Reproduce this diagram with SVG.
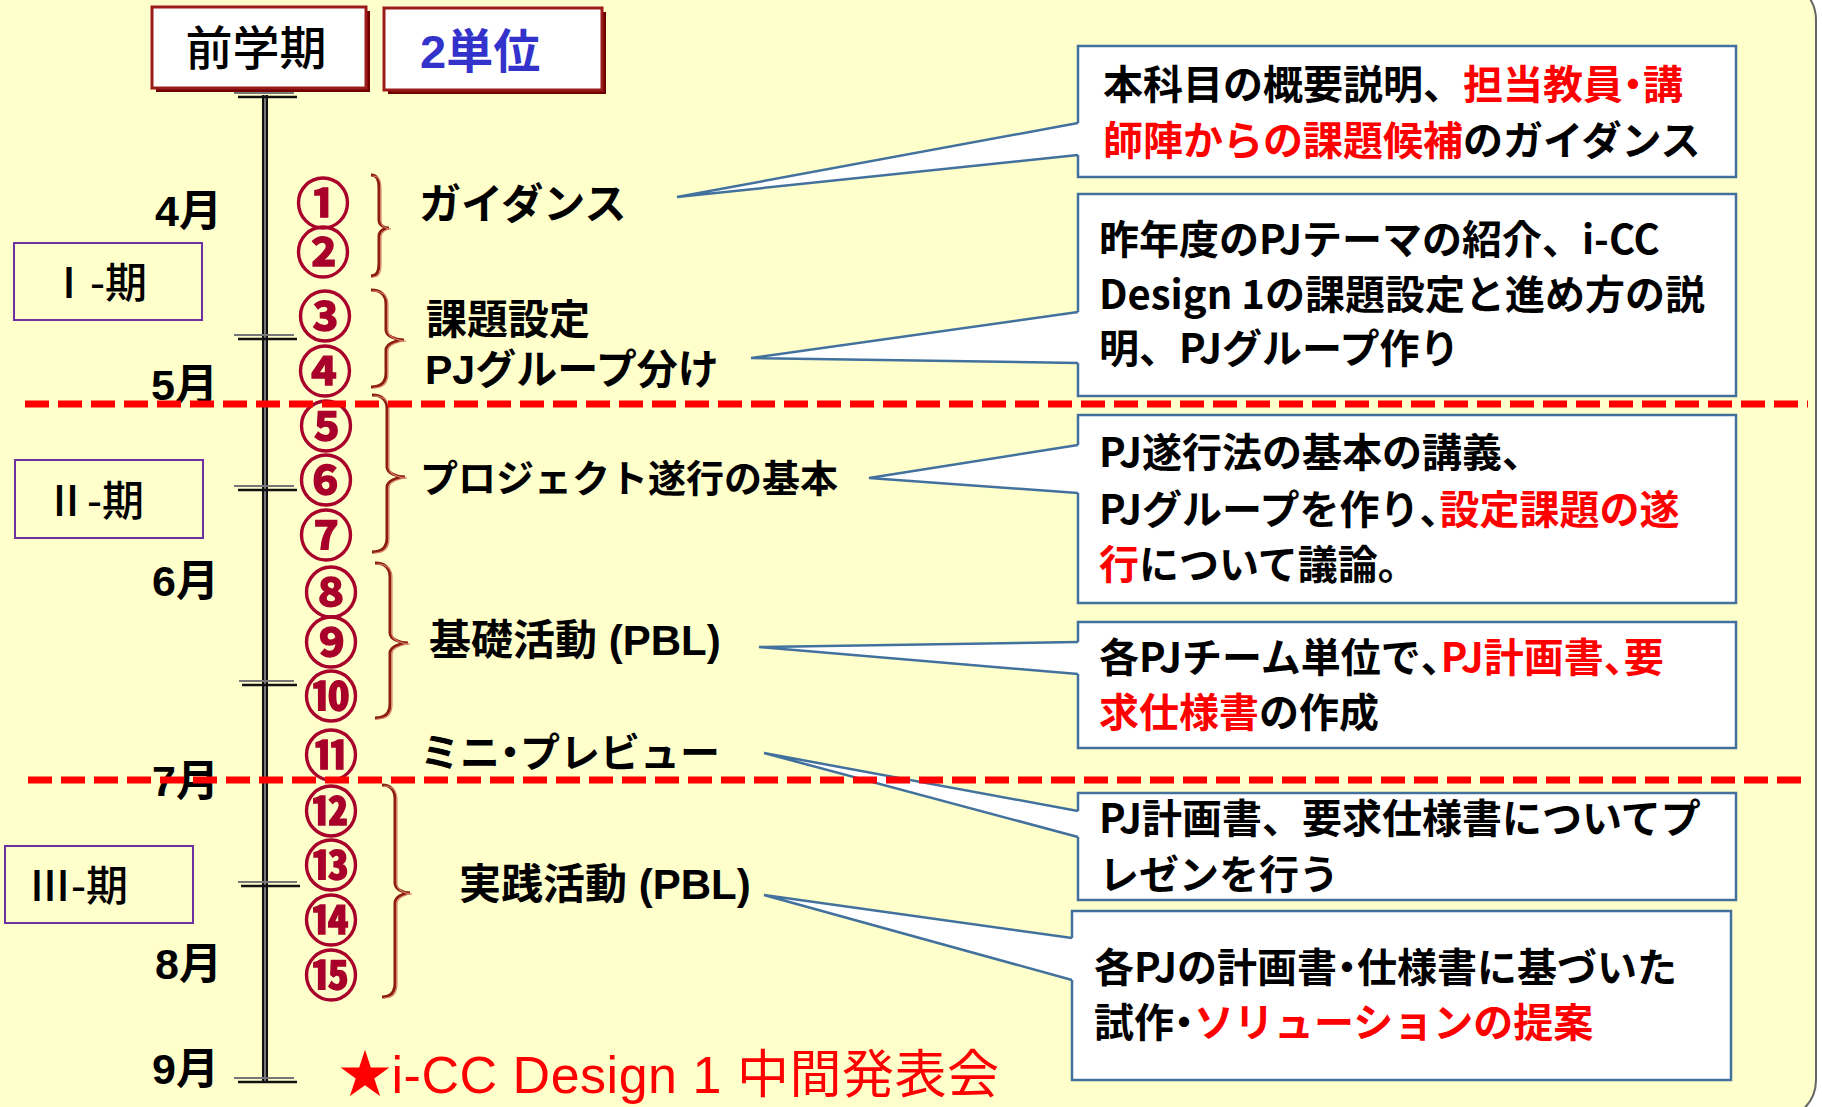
<svg xmlns="http://www.w3.org/2000/svg" width="1822" height="1107" viewBox="0 0 1822 1107">
<style>
.jp{font-family:"Noto Sans CJK JP","Noto Sans",sans-serif}
.lab{font-family:"Liberation Sans","Noto Sans CJK JP",sans-serif;font-weight:700;fill:#000}
.mon{font-family:"Liberation Sans","Noto Sans CJK JP",sans-serif;font-weight:700;font-size:43px;fill:#000}
.num{font-family:"Noto Sans CJK JP",sans-serif;font-weight:700;font-size:54px;fill:#A8002A;stroke:#A8002A;stroke-width:1.4;text-anchor:middle;dominant-baseline:central}
.per{fill:none;stroke:#7030A0;stroke-width:2}
.pert{font-family:"Noto Sans CJK JP",sans-serif;font-weight:500;font-size:42px;fill:#000}
.box{fill:#fff;stroke:#41719C;stroke-width:2.5}
.bt{font-family:"Noto Sans CJK JP",sans-serif;font-weight:700;font-size:40px;fill:#000}
.r{fill:#FF0000}
.h{font-feature-settings:"halt"}
.br{fill:none;stroke:#8B1E10;stroke-width:3}
.br2{fill:none;stroke:#D9826E;stroke-width:1.2}
.wf{fill:#fff;stroke:none}
.wl{fill:none;stroke:#41719C;stroke-width:2.5;stroke-linejoin:miter}
.dash{stroke:#FF0000;stroke-width:7;stroke-dasharray:24 9}
.tk1{stroke:#777;stroke-width:2}
.tk2{stroke:#111;stroke-width:2.5}
</style>
<rect x="-20" y="-20" width="1836" height="1140" rx="40" fill="#FFFFCC" stroke="#666" stroke-width="2"/>

<g id="header">
<g id="term">
<rect x="156" y="11" width="214" height="81" fill="#700000"/>
<rect x="152" y="7" width="214" height="81" fill="#fff" stroke="#9B1B1B" stroke-width="3"/>
<text x="256" y="65" class="jp" font-size="47" font-weight="500" text-anchor="middle">前学期</text>
</g>
<g id="credits">
<rect x="388" y="12" width="218" height="82" fill="#700000"/>
<rect x="384" y="8" width="218" height="82" fill="#fff" stroke="#9B1B1B" stroke-width="3"/>
<text x="420" y="68" font-family="Liberation Sans,Noto Sans CJK JP,sans-serif" font-size="47" font-weight="700" fill="#3333CC">2単位</text>
</g>
</g>

<g id="timeline">
<line x1="265" y1="95" x2="265" y2="1081" stroke="#111" stroke-width="6"/>
<line x1="265" y1="95" x2="265" y2="1081" stroke="#9a9a9a" stroke-width="1.5"/>
<line class="tk1" x1="234" y1="93" x2="294" y2="93"/><line class="tk2" x1="238" y1="97" x2="297" y2="97"/>
<line class="tk1" x1="234" y1="335" x2="294" y2="335"/><line class="tk2" x1="238" y1="339" x2="297" y2="339"/>
<line class="tk1" x1="234" y1="486" x2="294" y2="486"/><line class="tk2" x1="238" y1="490" x2="297" y2="490"/>
<line class="tk1" x1="239" y1="681" x2="294" y2="681"/><line class="tk2" x1="242" y1="685" x2="297" y2="685"/>
<line class="tk1" x1="238" y1="882" x2="297" y2="882"/><line class="tk2" x1="241" y1="886" x2="300" y2="886"/>
<line class="tk1" x1="234" y1="1078" x2="294" y2="1078"/><line class="tk2" x1="238" y1="1082" x2="297" y2="1082"/>
</g>

<g id="months">
<text class="mon" x="155" y="226">4月</text>
<text class="mon" x="151" y="400">5月</text>
<text class="mon" x="152" y="596">6月</text>
<text class="mon" x="152" y="796">7月</text>
<text class="mon" x="155" y="979">8月</text>
<text class="mon" x="152" y="1084">9月</text>
</g>

<g id="period-1"><rect class="per" x="14" y="243" width="188" height="77"/><text class="pert" x="48" y="298">Ⅰ-期</text></g>
<g id="period-2"><rect class="per" x="15" y="460" width="188" height="78"/><text class="pert" x="45" y="516">Ⅱ-期</text></g>
<g id="period-3"><rect class="per" x="5" y="846" width="188" height="77"/><text class="pert" x="29" y="901">Ⅲ-期</text></g>

<g id="sessions">
<text class="num" x="323" y="200">①</text>
<text class="num" x="323" y="249">②</text>
<text class="num" x="325" y="313">③</text>
<text class="num" x="325" y="368">④</text>
<text class="num" x="326" y="423">⑤</text>
<text class="num" x="326" y="477">⑥</text>
<text class="num" x="326" y="532">⑦</text>
<text class="num" x="331" y="589">⑧</text>
<text class="num" x="331" y="639">⑨</text>
<text class="num" x="331" y="693">⑩</text>
<text class="num" x="331" y="752">⑪</text>
<text class="num" x="331" y="808">⑫</text>
<text class="num" x="331" y="862">⑬</text>
<text class="num" x="331" y="917">⑭</text>
<text class="num" x="331" y="972">⑮</text>
</g>

<g id="braces">
<path class="br" d="M371,175 C377,175 379,179 379,189 L379,220 C379,225 384,228 389,228 C384,228 379,231 379,236 L379,262 C379,272 377,276 371,276"/>
<path class="br2" transform="translate(2,1)" d="M371,175 C377,175 379,179 379,189 L379,220 C379,225 384,228 389,228 C384,228 379,231 379,236 L379,262 C379,272 377,276 371,276"/>
<path class="br" d="M371,290 C380,290 386,294 386,304 L386,330 C386,336 396,340 404,340 C396,340 386,344 386,350 L386,373 C386,383 380,387 371,387"/>
<path class="br2" transform="translate(2,1)" d="M371,290 C380,290 386,294 386,304 L386,330 C386,336 396,340 404,340 C396,340 386,344 386,350 L386,373 C386,383 380,387 371,387"/>
<path class="br" d="M372,395 C381,395 387,399 387,409 L387,467 C387,473 397,477 405,477 C397,477 387,481 387,487 L387,538 C387,548 381,552 372,552"/>
<path class="br2" transform="translate(2,1)" d="M372,395 C381,395 387,399 387,409 L387,467 C387,473 397,477 405,477 C397,477 387,481 387,487 L387,538 C387,548 381,552 372,552"/>
<path class="br" d="M375,563 C384,563 390,567 390,577 L390,633 C390,639 400,643 408,643 C400,643 390,647 390,653 L390,704 C390,714 384,718 375,718"/>
<path class="br2" transform="translate(2,1)" d="M375,563 C384,563 390,567 390,577 L390,633 C390,639 400,643 408,643 C400,643 390,647 390,653 L390,704 C390,714 384,718 375,718"/>
<path class="br" d="M382,785 C390,785 395,789 395,799 L395,883 C395,889 403,893 410,893 C403,893 395,897 395,903 L395,983 C395,993 390,997 382,997"/>
<path class="br2" transform="translate(2,1)" d="M382,785 C390,785 395,789 395,799 L395,883 C395,889 403,893 410,893 C403,893 395,897 395,903 L395,983 C395,993 390,997 382,997"/>
</g>

<g id="labels">
<text class="lab" x="419" y="219" font-size="42">ガイダンス</text>
<text class="lab" x="426" y="334" font-size="41">課題設定</text>
<text class="lab" x="425" y="384" font-size="41">PJグループ分け</text>
<text class="lab" x="420" y="492" font-size="38">プロジェクト遂行の基本</text>
<text class="lab" x="429" y="655" font-size="42">基礎活動 (PBL)</text>
<text class="lab" x="420" y="767" font-size="40">ミニ<tspan class="h">・</tspan>プレビュー</text>
<text class="lab" x="459" y="899" font-size="42">実践活動 (PBL)</text>
<text x="339" y="1093" font-family="Liberation Sans,Noto Sans CJK JP,sans-serif" font-size="52" fill="#FF0000" textLength="660">★i-CC Design 1 中間発表会</text>
</g>

<g id="callout-1">
<rect class="box" x="1078" y="46" width="658" height="131"/>
<text class="bt" x="1103" y="99">本科目の概要説明、<tspan class="r">担当教員<tspan class="h">・</tspan>講</tspan></text>
<text class="bt" x="1103" y="155"><tspan class="r">師陣からの課題候補</tspan>のガイダンス</text>
</g>
<g id="callout-2">
<rect class="box" x="1078" y="194" width="658" height="202"/>
<text class="bt" x="1099" y="254">昨年度のPJテーマの紹介、i-CC</text>
<text class="bt" x="1099" y="309">Design 1の課題設定と進め方の説</text>
<text class="bt" x="1099" y="363">明、PJグループ作り</text>
</g>
<g id="callout-3">
<rect class="box" x="1078" y="415" width="658" height="188"/>
<text class="bt" x="1099" y="467">PJ遂行法の基本の講義、</text>
<text class="bt" x="1099" y="524">PJグループを作り<tspan class="h">、</tspan><tspan class="r">設定課題の遂</tspan></text>
<text class="bt" x="1099" y="579"><tspan class="r">行</tspan>について議論。</text>
</g>
<g id="callout-4">
<rect class="box" x="1078" y="622" width="658" height="126"/>
<text class="bt" x="1099" y="672">各PJチーム単位で<tspan class="h">、</tspan><tspan class="r">PJ計画書<tspan class="h">、</tspan>要</tspan></text>
<text class="bt" x="1099" y="727"><tspan class="r">求仕様書</tspan>の作成</text>
</g>
<g id="callout-5">
<rect class="box" x="1078" y="793" width="658" height="107"/>
<text class="bt" x="1099" y="833">PJ計画書、要求仕様書についてプ</text>
<text class="bt" x="1099" y="889">レゼンを行う</text>
</g>
<g id="callout-6">
<rect class="box" x="1072" y="911" width="659" height="169"/>
<text class="bt" x="1094" y="982">各PJの計画書<tspan class="h">・</tspan>仕様書に基づいた</text>
<text class="bt" x="1094" y="1037">試作<tspan class="h">・</tspan><tspan class="r">ソリューションの提案</tspan></text>
</g>

<g id="connectors">
<polygon class="wf" points="1078,123 677,197 1078,155 1081,155 1081,123"/>
<polyline class="wl" points="1078,123 677,197 1078,155"/>
<polygon class="wf" points="1078,312 751,358 1078,363 1081,363 1081,312"/>
<polyline class="wl" points="1078,312 751,358 1078,363"/>
<polygon class="wf" points="1078,445 869,478 1078,493 1081,493 1081,445"/>
<polyline class="wl" points="1078,445 869,478 1078,493"/>
<polygon class="wf" points="1078,642 759,647 1078,674 1081,674 1081,642"/>
<polyline class="wl" points="1078,642 759,647 1078,674"/>
<polygon class="wf" points="1078,811 764,753 1078,837 1081,837 1081,811"/>
<polyline class="wl" points="1078,811 764,753 1078,837"/>
<polygon class="wf" points="1072,938 764,895 1072,980 1075,980 1075,938"/>
<polyline class="wl" points="1072,938 764,895 1072,980"/>
</g>

<g id="dividers">
<line class="dash" x1="25" y1="404" x2="1808" y2="404"/>
<line class="dash" x1="28" y1="780" x2="1810" y2="780"/>
</g>
</svg>
